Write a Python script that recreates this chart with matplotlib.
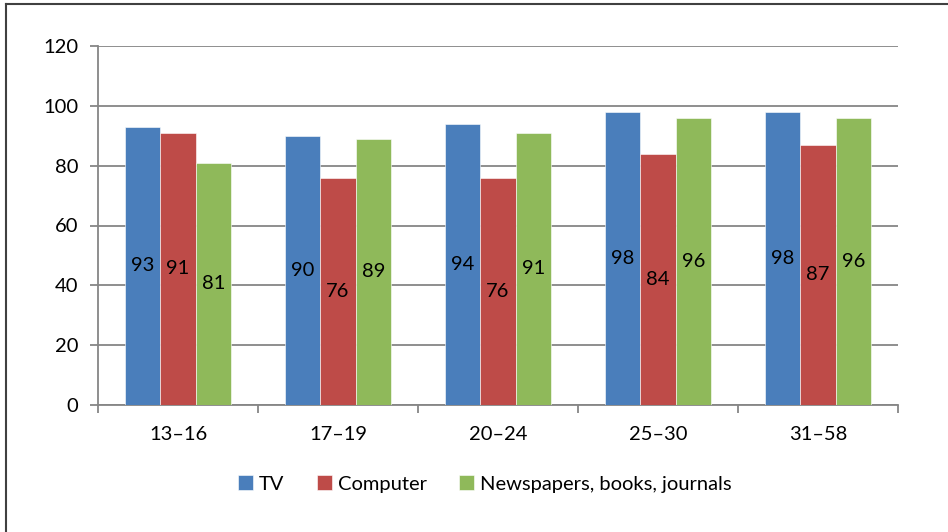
import numpy as np
import matplotlib.pyplot as plt
from matplotlib.lines import Line2D

plt.rcParams['font.family'] = ['Lato', 'DejaVu Sans']

groups = ["13–16", "17–19", "20–24", "25–30", "31–58"]
tv = [93, 90, 94, 98, 98]
computer = [91, 76, 76, 84, 87]
papers = [81, 89, 91, 96, 96]
series_names = ["TV", "Computer", "Newspapers, books, journals"]
colors = ["#4A7EBB", "#BE4B48", "#8FB95A"]

fig = plt.figure(figsize=(9.48, 5.32), dpi=100)
ax = fig.add_axes([98 / 948, 1 - 405 / 532, 800 / 948, 359 / 532])

# outer chart frame (only left/top edges visible in the crop)
fig.add_artist(Line2D([6 / 948, 6 / 948], [0, 1 - 4 / 532], color="#404040", lw=1.5))
fig.add_artist(Line2D([6 / 948, 1], [1 - 4 / 532, 1 - 4 / 532], color="#404040", lw=1.5))

x = np.arange(len(groups))
w = 0.221
for i, (vals, name, c) in enumerate(zip([tv, computer, papers], series_names, colors)):
    pos = x + (i - 1) * w
    ax.bar(pos, vals, width=w, color=c, edgecolor="white", linewidth=0.4, label=name, zorder=3)
    for p, v in zip(pos, vals):
        ax.text(p, v / 2, str(v), ha="center", va="center", fontsize=14.5, color="black", zorder=4)

ax.set_xlim(-0.5, len(groups) - 0.5)
ax.set_ylim(0, 120)
ax.set_yticks(range(0, 121, 20))
ax.yaxis.grid(True, color="#868686", lw=1.3, zorder=0)
ax.set_axisbelow(True)

ax.set_xticks(x)
ax.set_xticklabels(groups)
ax.set_xticks(np.arange(-0.5, len(groups)), minor=True)
ax.tick_params(axis="x", which="major", length=0, pad=15, labelsize=14.5)
ax.tick_params(axis="x", which="minor", length=6, width=1.3, color="#868686", direction="out")
ax.tick_params(axis="y", length=6, width=1.3, color="#868686", labelsize=14.5, pad=8)

for s in ["top", "right"]:
    ax.spines[s].set_visible(False)
for s in ["left", "bottom"]:
    ax.spines[s].set_color("#868686")
    ax.spines[s].set_linewidth(1.3)

ax.legend(loc="center", bbox_to_anchor=(485 / 948, 1 - 484 / 532),
          bbox_transform=fig.transFigure, ncol=3, frameon=False, fontsize=14.5,
          handlelength=0.75, handleheight=0.75, handletextpad=0.3, columnspacing=1.6)

fig.savefig("out.png", dpi=100)
